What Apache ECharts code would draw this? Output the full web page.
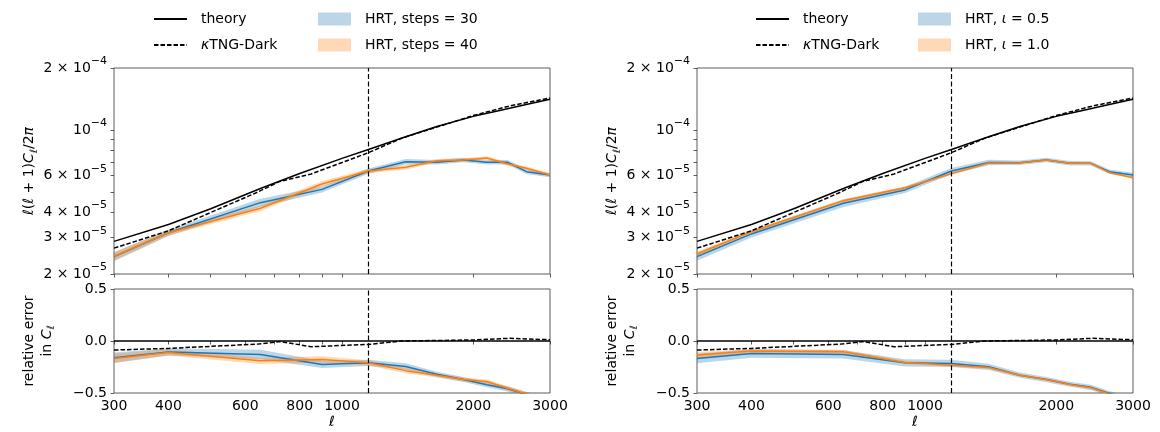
<!DOCTYPE html>
<html><head><meta charset="utf-8">
<script src="https://cdn.jsdelivr.net/npm/echarts@6/dist/echarts.min.js"></script>
<style>html,body{margin:0;padding:0;background:#fff}#c{width:1160px;height:432px}</style>
</head><body><div id="c"></div><script>
// ---------------- data ----------------
const cutEll = 1150;
const theoryEll   = [300, 400, 500, 650, 800, 1000, 1150, 1400, 1650, 2000, 2300, 2600, 3000];
const theoryPower = [2.88e-5, 3.48e-5, 4.15e-5, 5.2e-5, 6.15e-5, 7.28e-5, 8.05e-5, 9.28e-5, 1.04e-4, 1.165e-4, 1.245e-4, 1.32e-4, 1.41e-4];
const theoryErrEll = [300, 3000];
const theoryRelErr = [0, 0];
const tngEll    = [300, 400, 640, 720, 850, 1150, 1370, 2000, 2430, 3000];
const tngPower  = [2.67e-5, 3.24e-5, 4.99e-5, 5.63e-5, 6.12e-5, 7.76e-5, 9.12e-5, 1.175e-4, 1.31e-4, 1.43e-4];
const tngRelErr = [-0.087, -0.071, -0.03, -0.005, -0.055, -0.033, 0.0, 0.01, 0.026, 0.012];
const hrtEll = [300, 400, 650, 900, 1150, 1400, 1650, 1900, 2150, 2400, 2650, 3000];
// left panel: steps
const steps30Power = [2.43e-5, 3.17e-5, 4.44e-5, 5.15e-5, 6.32e-5, 7.02e-5, 6.97e-5, 7.15e-5, 6.98e-5, 6.97e-5, 6.28e-5, 6.05e-5];
const steps40Power = [2.44e-5, 3.17e-5, 4.17e-5, 5.47e-5, 6.32e-5, 6.59e-5, 7.10e-5, 7.15e-5, 7.31e-5, 6.84e-5, 6.52e-5, 6.05e-5];
const steps30Err = [-0.16, -0.105, -0.13, -0.225, -0.21, -0.245, -0.32, -0.37, -0.42, -0.46, -0.515, -0.57];
const steps40Err = [-0.168, -0.11, -0.19, -0.177, -0.21, -0.285, -0.33, -0.37, -0.39, -0.455, -0.51, -0.57];
const steps30Spread = [0.05, 0.035, 0.045, 0.035, 0.03, 0.03, 0.025, 0.025, 0.025, 0.025, 0.025, 0.025];
const steps40Spread = [0.045, 0.03, 0.03, 0.03, 0.025, 0.025, 0.02, 0.02, 0.02, 0.02, 0.02, 0.02];
// right panel: iota
const iota05Power = [2.43e-5, 3.13e-5, 4.41e-5, 5.12e-5, 6.32e-5, 6.96e-5, 6.94e-5, 7.15e-5, 6.90e-5, 6.89e-5, 6.28e-5, 6.05e-5];
const iota10Power = [2.50e-5, 3.21e-5, 4.54e-5, 5.25e-5, 6.14e-5, 6.92e-5, 6.94e-5, 7.15e-5, 6.90e-5, 6.89e-5, 6.21e-5, 5.87e-5];
const iota05Err = [-0.168, -0.12, -0.129, -0.21, -0.216, -0.248, -0.329, -0.371, -0.416, -0.445, -0.505, -0.57];
const iota10Err = [-0.135, -0.097, -0.103, -0.206, -0.232, -0.255, -0.33, -0.37, -0.418, -0.45, -0.51, -0.58];
const iota05Spread = [0.045, 0.04, 0.04, 0.035, 0.035, 0.03, 0.025, 0.025, 0.025, 0.025, 0.025, 0.025];
const iota10Spread = [0.03, 0.02, 0.02, 0.015, 0.015, 0.015, 0.012, 0.012, 0.012, 0.012, 0.012, 0.012];
// ticks
const xTickValues  = [300, 400, 500, 600, 700, 800, 900, 1000, 2000, 3000];
const xLabelValues = [300, 400, 600, 800, 1000, 2000, 3000];
const yTickValues  = [2e-5, 3e-5, 4e-5, 5e-5, 6e-5, 7e-5, 8e-5, 9e-5, 1e-4, 2e-4];
const yLabelValues = [2e-5, 3e-5, 4e-5, 6e-5, 1e-4, 2e-4];

// ---------------- helpers ----------------
const FONT = 'DejaVu Sans';
const BLUE = '#1f77b4', ORANGE = '#ff7f0e';
const BLUE_BAND = 'rgba(31,119,180,0.3)', ORANGE_BAND = 'rgba(255,127,14,0.3)';
const BLUE_PATCH = '#bcd6e8', ORANGE_PATCH = '#ffd9b7';
const zip = (xs, ys) => xs.map((x, i) => [x, ys[i]]);

function bandSeries(name, xs, lo, hi, color, gi) {
  return {
    type: 'custom', name: name, xAxisIndex: gi, yAxisIndex: gi, clip: true, silent: true, z: 1,
    itemStyle: {color: color},
    data: xs.map((x, i) => [x, lo[i], hi[i]]),
    encode: {x: 0, y: [1, 2]},
    renderItem: function (params, api) {
      if (params.dataIndex !== 0) return null;
      const pts = [];
      for (let i = 0; i < xs.length; i++) pts.push(api.coord([xs[i], hi[i]]));
      for (let i = xs.length - 1; i >= 0; i--) pts.push(api.coord([xs[i], lo[i]]));
      return {type: 'polygon', shape: {points: pts}, style: {fill: color}};
    }
  };
}
function lineSeries(name, data, color, gi, dashed, z, width) {
  return {
    type: 'line', name: name, xAxisIndex: gi, yAxisIndex: gi, data: data, symbol: 'none',
    clip: true, silent: true, z: z, animation: false,
    lineStyle: {color: color, width: width || 1.5, type: dashed ? [4.5, 2] : 'solid'},
    itemStyle: {color: color}
  };
}
function vline(gi) {
  return {
    type: 'line', name: 'cut' + gi, xAxisIndex: gi, yAxisIndex: gi, data: [], silent: true, z: 6,
    markLine: {silent: true, symbol: ['none', 'none'], label: {show: false},
      lineStyle: {color: '#000', width: 1.2, type: [5, 2.5]},
      data: [{xAxis: cutEll}]}
  };
}
function powLabel(v) {
  const e = Math.floor(Math.log10(v) + 1e-9);
  const m = Math.round(v / Math.pow(10, e));
  const ex = '−' + String(-e);
  if (m === 1) return '{b|10}{s|' + ex + '}';
  return '{b|' + m + ' × 10}{s|' + ex + '}';
}
const tickStyle = {show: true, inside: false, length: 3.5, lineStyle: {color: '#333', width: 0.8}};

function xAxisDef(gi, showLabels) {
  return {
    type: 'log', logBase: 10, min: 300, max: 3000, gridIndex: gi,
    axisLine: {show: false}, splitLine: {show: false},
    axisTick: Object.assign({customValues: xTickValues}, tickStyle),
    axisLabel: {show: showLabels, customValues: xLabelValues, margin: 6,
      fontFamily: FONT, fontSize: 14, color: '#000', formatter: v => String(Math.round(v))},
    name: showLabels ? 'ℓ' : '', nameLocation: 'middle', nameGap: 22,
    nameTextStyle: {fontFamily: FONT, fontStyle: 'italic', fontSize: 14, color: '#000'}
  };
}
function yTopDef(gi) {
  return {
    type: 'log', logBase: 10, min: 2e-5, max: 2e-4, gridIndex: gi,
    axisLine: {show: false}, splitLine: {show: false},
    axisTick: Object.assign({customValues: yTickValues}, tickStyle),
    axisLabel: {customValues: yLabelValues, margin: 7, formatter: powLabel,
      rich: {b: {fontFamily: FONT, fontSize: 14, color: '#000', lineHeight: 24},
             s: {fontFamily: FONT, fontSize: 11, color: '#000', lineHeight: 14, verticalAlign: 'top'}}},
    name: '{i|ℓ}{r|(}{i|ℓ}{r| + 1)}{i|C}{sub|ℓ}{r|/2}{i|π}',
    nameLocation: 'middle', nameRotate: 90, nameGap: 68,
    nameTextStyle: {rich: {
      i: {fontFamily: FONT, fontStyle: 'italic', fontSize: 14, color: '#000', lineHeight: 20},
      r: {fontFamily: FONT, fontSize: 14, color: '#000', lineHeight: 20},
      sub: {fontFamily: FONT, fontStyle: 'italic', fontSize: 10, color: '#000', lineHeight: 12, verticalAlign: 'bottom'}}}
  };
}
function yErrDef(gi) {
  return {
    type: 'value', min: -0.5, max: 0.5, interval: 0.5, gridIndex: gi,
    axisLine: {show: false}, splitLine: {show: false},
    axisTick: tickStyle,
    axisLabel: {margin: 7, fontFamily: FONT, fontSize: 14, color: '#000',
      formatter: v => v.toFixed(1).replace('-', '−')},
    name: '{n|relative error}\n{n|in }{i|C}{sub|ℓ}',
    nameLocation: 'middle', nameRotate: 90, nameGap: 58,
    nameTextStyle: {align: 'center', rich: {
      n: {fontFamily: FONT, fontSize: 14, color: '#000', lineHeight: 18, align: 'center'},
      i: {fontFamily: FONT, fontStyle: 'italic', fontSize: 14, color: '#000', lineHeight: 18},
      sub: {fontFamily: FONT, fontStyle: 'italic', fontSize: 10, color: '#000', lineHeight: 12, verticalAlign: 'bottom'}}}
  };
}
function legendPair(left, names, isPatch) {
  return {
    orient: 'vertical', left: left, top: 12, itemGap: 12, itemWidth: 33, itemHeight: 13,
    selectedMode: false, padding: 0,
    data: names.map((n, i) => isPatch
      ? {name: n, icon: 'rect', itemStyle: {color: [BLUE_PATCH, ORANGE_PATCH][i], borderWidth: 0}}
      : {name: n, itemStyle: {opacity: 0}}),
    formatter: function (name) {
      return name.replace('κ', '{i|κ}').replace('ι', '{i|ι}');
    },
    textStyle: {fontFamily: FONT, fontSize: 14, color: '#000', padding: [0, 0, 0, 9],
      rich: {i: {fontFamily: FONT, fontStyle: 'italic', fontSize: 14, color: '#000'}}}
  };
}

function panelSeries(gTop, gBot, nameA, nameB, powA, powB, errA, errB, spA, spB) {
  const s = [];
  s.push(bandSeries(nameA, hrtEll, powA.map((v, i) => v * (1 - spA[i])), powA.map((v, i) => v * (1 + spA[i])), BLUE_BAND, gTop));
  s.push(bandSeries(nameB, hrtEll, powB.map((v, i) => v * (1 - spB[i])), powB.map((v, i) => v * (1 + spB[i])), ORANGE_BAND, gTop));
  s.push(lineSeries(nameA + ' mean', zip(hrtEll, powA), BLUE, gTop, false, 3));
  s.push(lineSeries(nameB + ' mean', zip(hrtEll, powB), ORANGE, gTop, false, 4));
  s.push(lineSeries('theory', zip(theoryEll, theoryPower), '#000', gTop, false, 5));
  s.push(lineSeries('κTNG-Dark', zip(tngEll, tngPower), '#000', gTop, true, 5));
  s.push(vline(gTop));
  s.push(bandSeries(nameA, hrtEll, errA.map((v, i) => v - spA[i]), errA.map((v, i) => v + spA[i]), BLUE_BAND, gBot));
  s.push(bandSeries(nameB, hrtEll, errB.map((v, i) => v - spB[i]), errB.map((v, i) => v + spB[i]), ORANGE_BAND, gBot));
  s.push(lineSeries(nameA + ' mean', zip(hrtEll, errA), BLUE, gBot, false, 3));
  s.push(lineSeries(nameB + ' mean', zip(hrtEll, errB), ORANGE, gBot, false, 4));
  s.push(lineSeries('theory', zip(theoryErrEll, theoryRelErr), '#000', gBot, false, 5));
  s.push(lineSeries('κTNG-Dark', zip(tngEll, tngRelErr), '#000', gBot, true, 5));
  s.push(vline(gBot));
  return s;
}

const gridStyle = {show: true, borderColor: '#333', borderWidth: 0.8, backgroundColor: 'transparent'};
const L = 114, R = 697, W = 436;
const option = {
  animation: false,
  backgroundColor: '#fff',
  grid: [
    Object.assign({left: L, top: 68, width: W, height: 206}, gridStyle),
    Object.assign({left: L, top: 289, width: W, height: 104}, gridStyle),
    Object.assign({left: R, top: 68, width: W, height: 206}, gridStyle),
    Object.assign({left: R, top: 289, width: W, height: 104}, gridStyle)
  ],
  xAxis: [xAxisDef(0, false), xAxisDef(1, true), xAxisDef(2, false), xAxisDef(3, true)],
  yAxis: [yTopDef(0), yErrDef(1), yTopDef(2), yErrDef(3)],
  legend: [
    legendPair(153, ['theory', 'κTNG-Dark'], false),
    legendPair(318, ['HRT, steps = 30', 'HRT, steps = 40'], true),
    legendPair(755, ['theory', 'κTNG-Dark'], false),
    legendPair(918, ['HRT, ι = 0.5', 'HRT, ι = 1.0'], true)
  ],
  series: [].concat(
    panelSeries(0, 1, 'HRT, steps = 30', 'HRT, steps = 40', steps30Power, steps40Power, steps30Err, steps40Err, steps30Spread, steps40Spread),
    panelSeries(2, 3, 'HRT, ι = 0.5', 'HRT, ι = 1.0', iota05Power, iota10Power, iota05Err, iota10Err, iota05Spread, iota10Spread)
  )
};
const chart = echarts.init(document.getElementById('c'), null, {renderer: 'canvas'});
chart.setOption(option);
</script></body></html>
